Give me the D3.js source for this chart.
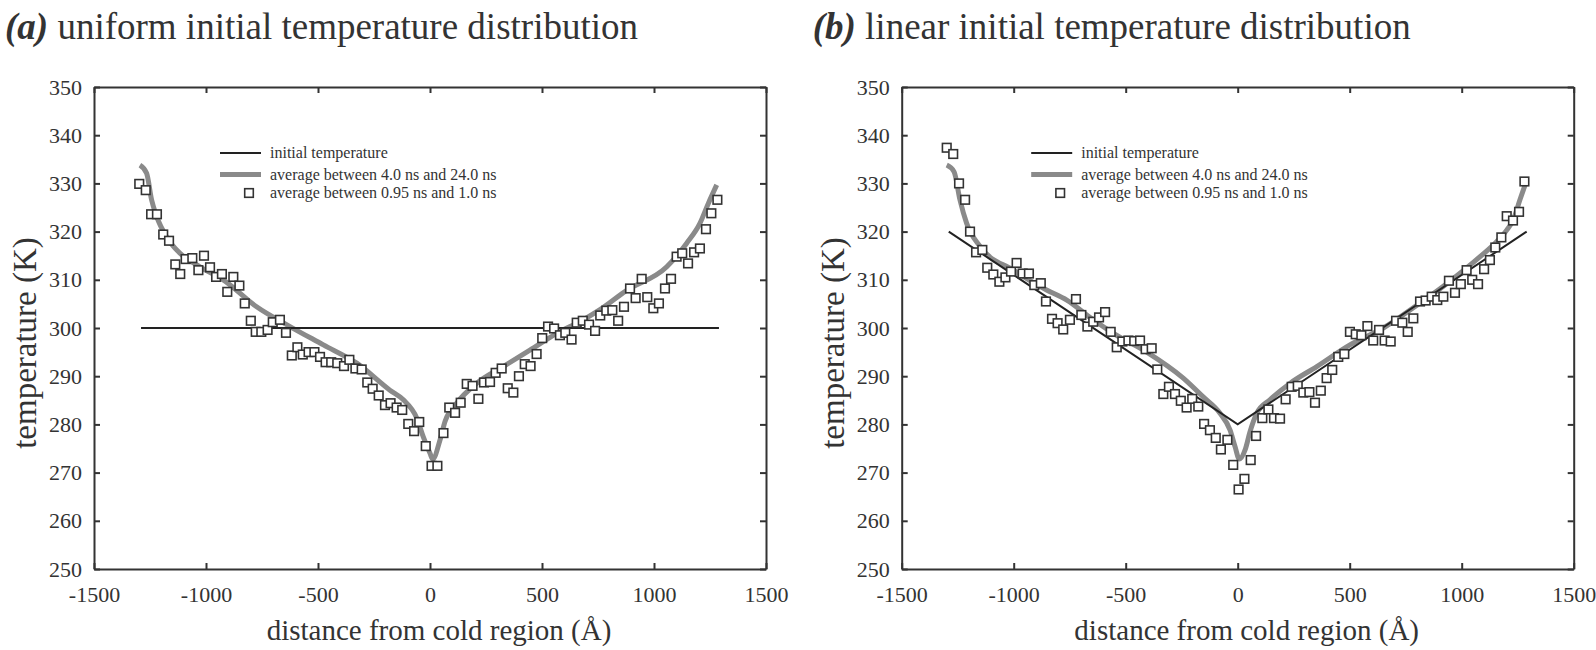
<!DOCTYPE html>
<html>
<head>
<meta charset="utf-8">
<script src="https://cdn.jsdelivr.net/npm/d3@7"></script>
<style>
  body { margin: 0; background: #fff; }
  svg text { font-family: "Liberation Serif", "Times New Roman", serif; fill: #333; }
</style>
</head>
<body>
<svg id="drawing_region" width="1596" height="650"></svg>
<script>
// ---- data ----
const xTicks = [-1500, -1000, -500, 0, 500, 1000, 1500];
const yTicks = [250, 260, 270, 280, 290, 300, 310, 320, 330, 340, 350];
const legendLabels = ["initial temperature", "average between 4.0 ns and 24.0 ns", "average between 0.95 ns and 1.0 ns"];

// (a) uniform initial temperature
const initialA = [[-1290, 300], [1290, 300]];
const avgLongA = [
  [-1295, 333.8], [-1265, 332.1], [-1243, 326.6], [-1220, 323.1], [-1176, 318.9], [-1116, 315.5],
  [-1027, 312.7], [-923, 310.0], [-774, 304.4], [-625, 300.3], [-476, 296.5], [-327, 292.7],
  [-179, 287.1], [-119, 285.1], [-59, 281.3], [-30, 277.4], [0, 274.0], [12, 272.8], [45, 276.8],
  [67, 280.6], [119, 284.4], [208, 288.5], [327, 292.0], [446, 295.4], [566, 298.9], [684, 301.7],
  [759, 303.8], [878, 307.8], [1057, 312.7], [1146, 317.6], [1205, 321.7], [1243, 325.9], [1280, 329.7]
];
const avgShortA = [
  [-1298, 329.9], [-1269, 328.6], [-1245, 323.6], [-1219, 323.6], [-1191, 319.4], [-1165, 318.1],
  [-1137, 313.2], [-1115, 311.2], [-1091, 314.3], [-1061, 314.5], [-1034, 312.0], [-1009, 315.0],
  [-982, 312.6], [-955, 310.6], [-929, 311.2], [-905, 307.5], [-878, 310.6], [-851, 308.8],
  [-827, 305.1], [-800, 301.5], [-778, 299.2], [-753, 299.2], [-725, 299.6], [-702, 301.2],
  [-670, 301.7], [-643, 299.0], [-617, 294.3], [-592, 296.0], [-568, 294.5], [-542, 295.0],
  [-516, 295.0], [-491, 294.0], [-466, 292.9], [-441, 292.9], [-414, 292.7], [-384, 292.1],
  [-360, 293.4], [-333, 291.6], [-305, 291.4], [-280, 288.7], [-256, 287.4], [-229, 286.0],
  [-201, 284.0], [-176, 284.4], [-149, 283.5], [-124, 283.0], [-97, 280.1], [-71, 278.6],
  [-48, 280.5], [-19, 275.5], [7, 271.4], [33, 271.4], [60, 278.2], [86, 283.5], [112, 282.4],
  [137, 284.5], [164, 288.4], [190, 288.0], [216, 285.3], [241, 288.7], [268, 288.8], [293, 290.7],
  [320, 291.6], [347, 287.5], [372, 286.6], [397, 290.0], [423, 292.5], [449, 292.1], [476, 294.6],
  [501, 297.9], [527, 300.3], [554, 299.9], [580, 298.5], [604, 299.0], [632, 297.6], [655, 301.1],
  [682, 301.5], [710, 300.7], [737, 299.4], [760, 302.6], [787, 303.6], [814, 303.7], [840, 301.5],
  [866, 304.4], [893, 308.2], [918, 306.2], [945, 310.2], [970, 306.4], [997, 304.1], [1022, 305.1],
  [1049, 308.2], [1076, 310.2], [1101, 314.8], [1126, 315.5], [1152, 313.4], [1179, 315.7],
  [1205, 316.5], [1232, 320.5], [1256, 323.8], [1283, 326.6]
];

// (b) linear initial temperature
const initialB = [[-1290, 320], [0, 280], [1290, 320]];
const avgLongB = [
  [-1299, 333.8], [-1266, 332.4], [-1240, 326.6], [-1210, 321.7], [-1150, 316.9], [-1002, 312.0],
  [-853, 307.9], [-763, 305.8], [-645, 301.7], [-555, 298.9], [-406, 295.0], [-243, 289.6],
  [-154, 285.7], [-79, 282.3], [-34, 278.8], [-12, 275.4], [7, 272.8], [33, 274.7], [55, 278.5],
  [85, 282.3], [144, 285.1], [233, 288.5], [353, 292.0], [501, 296.5], [650, 300.0], [784, 304.2],
  [933, 309.2], [1082, 314.8], [1156, 317.9], [1201, 320.3], [1230, 322.4], [1260, 326.6], [1283, 329.7]
];
const avgShortB = [
  [-1299, 337.4], [-1270, 336.1], [-1244, 330.0], [-1217, 326.6], [-1195, 320.0], [-1168, 315.7],
  [-1140, 316.2], [-1118, 312.5], [-1091, 311.1], [-1064, 309.6], [-1037, 310.5], [-1012, 311.7],
  [-987, 313.5], [-960, 311.3], [-932, 311.3], [-908, 308.9], [-879, 309.3], [-856, 305.5],
  [-829, 301.9], [-804, 301.0], [-779, 299.7], [-749, 301.7], [-722, 306.0], [-698, 302.7],
  [-671, 300.3], [-645, 301.3], [-619, 302.2], [-592, 303.3], [-567, 299.2], [-540, 296.0],
  [-515, 297.2], [-488, 297.4], [-462, 297.3], [-436, 297.4], [-411, 295.6], [-384, 295.8],
  [-359, 291.4], [-332, 286.3], [-307, 287.8], [-280, 286.3], [-254, 284.9], [-228, 283.5],
  [-203, 285.3], [-176, 283.7], [-150, 280.1], [-124, 278.8], [-98, 277.2], [-75, 274.8],
  [-46, 276.8], [-20, 271.6], [4, 266.5], [30, 268.7], [58, 272.6], [82, 277.6], [110, 281.3],
  [137, 283.1], [162, 281.3], [189, 281.2], [214, 285.2], [241, 287.8], [268, 288.0], [293, 286.6],
  [320, 286.7], [345, 284.5], [371, 287.0], [397, 289.6], [422, 291.3], [449, 294.0], [476, 294.6],
  [501, 299.2], [527, 298.7], [552, 298.5], [579, 300.4], [605, 297.4], [631, 299.6], [656, 297.4],
  [683, 297.2], [707, 301.5], [735, 301.1], [759, 299.2], [784, 302.0], [814, 305.5], [839, 305.7],
  [866, 306.5], [891, 305.8], [918, 306.5], [943, 309.8], [970, 307.3], [996, 309.1], [1022, 312.0],
  [1047, 310.0], [1073, 309.1], [1100, 312.2], [1126, 314.1], [1150, 316.7], [1177, 318.8],
  [1201, 323.2], [1229, 322.3], [1256, 324.1], [1280, 330.4]
];

// ---- layout ----
const svg = d3.select('#drawing_region');
const width = 672, height = 482;
const ink = '#333';

const panels = [
  { left: 94, tag: '(a)', title: 'uniform initial temperature distribution', legendX: 126,
    initial: initialA, avgLong: avgLongA, avgShort: avgShortA },
  { left: 901.7, tag: '(b)', title: 'linear initial temperature distribution', legendX: 129.5,
    initial: initialB, avgLong: avgLongB, avgShort: avgShortB }
];

const x = d3.scaleLinear().domain([-1500, 1500]).range([0, width]);
const y = d3.scaleLinear().domain([250, 350]).range([height, 0]);

panels.forEach(p => DrawPanel(p));

function DrawPanel(p) {
  const g = svg.append('g').attr('transform', `translate(${p.left},87)`);

  // title
  const t = svg.append('text')
    .attr('x', p.left - 89).attr('y', 39)
    .attr('font-size', 37);
  t.append('tspan').attr('font-weight', 'bold').attr('font-style', 'italic').text(p.tag);
  t.append('tspan').text(' ' + p.title);

  // axes: ticks point inward on all four sides
  const styleAxis = sel => {
    sel.selectAll('path, line').attr('stroke', ink).attr('stroke-width', 2);
    sel.selectAll('text').attr('font-size', 22).attr('fill', ink)
      .style('font-family', '"Liberation Serif", "Times New Roman", serif');
  };
  const plain = d => String(d);
  g.append('g').attr('transform', `translate(0,${height})`)
    .call(d3.axisBottom(x).tickValues(xTicks).tickFormat(plain).tickSize(-6).tickSizeOuter(0).tickPadding(17))
    .call(styleAxis);
  g.append('g')
    .call(d3.axisTop(x).tickValues(xTicks).tickSize(-6).tickSizeOuter(0).tickFormat(''))
    .call(styleAxis);
  g.append('g')
    .call(d3.axisLeft(y).tickValues(yTicks).tickFormat(plain).tickSize(-6).tickSizeOuter(0).tickPadding(12))
    .call(styleAxis);
  g.append('g').attr('transform', `translate(${width},0)`)
    .call(d3.axisRight(y).tickValues(yTicks).tickSize(-6).tickSizeOuter(0).tickFormat(''))
    .call(styleAxis);

  // axis titles
  g.append('text')
    .attr('x', width / 2 + 9).attr('y', 553)
    .attr('text-anchor', 'middle').attr('font-size', 29)
    .text('distance from cold region (Å)');
  g.append('text')
    .attr('transform', `translate(${-58},${height / 2 + 15}) rotate(-90)`)
    .attr('text-anchor', 'middle').attr('font-size', 33)
    .text('temperature (K)');

  const line = d3.line().x(d => x(d[0])).y(d => y(d[1]));

  // long time average (thick gray)
  g.append('path').datum(p.avgLong)
    .attr('fill', 'none').attr('stroke', '#8a8a8a').attr('stroke-width', 5)
    .attr('stroke-linejoin', 'round')
    .attr('d', line.curve(d3.curveMonotoneX));

  // initial temperature
  g.append('path').datum(p.initial)
    .attr('fill', 'none').attr('stroke', '#222').attr('stroke-width', 2)
    .attr('d', line.curve(d3.curveLinear));

  // short time average (open squares)
  g.selectAll('rect.pt').data(p.avgShort).enter().append('rect')
    .attr('class', 'pt')
    .attr('x', d => x(d[0]) - 4.3).attr('y', d => y(d[1]) - 4.3)
    .attr('width', 8.6).attr('height', 8.6)
    .attr('fill', '#fff').attr('stroke', ink).attr('stroke-width', 1.6);

  // legend
  const lg = g.append('g').attr('transform', `translate(${p.legendX},0)`);
  const rows = [66, 87.5, 106];
  lg.append('line').attr('x1', 0).attr('x2', 41).attr('y1', rows[0]).attr('y2', rows[0])
    .attr('stroke', '#222').attr('stroke-width', 2);
  lg.append('line').attr('x1', 0).attr('x2', 41).attr('y1', rows[1]).attr('y2', rows[1])
    .attr('stroke', '#8a8a8a').attr('stroke-width', 5);
  lg.append('rect').attr('x', 29 - 4.3).attr('y', rows[2] - 4.3).attr('width', 8.6).attr('height', 8.6)
    .attr('fill', '#fff').attr('stroke', ink).attr('stroke-width', 1.6);
  lg.selectAll('text.leg').data(legendLabels).enter().append('text')
    .attr('class', 'leg')
    .attr('x', 50).attr('y', (d, i) => rows[i] + 5)
    .attr('font-size', 16)
    .text(d => d);
}
</script>
</body>
</html>
